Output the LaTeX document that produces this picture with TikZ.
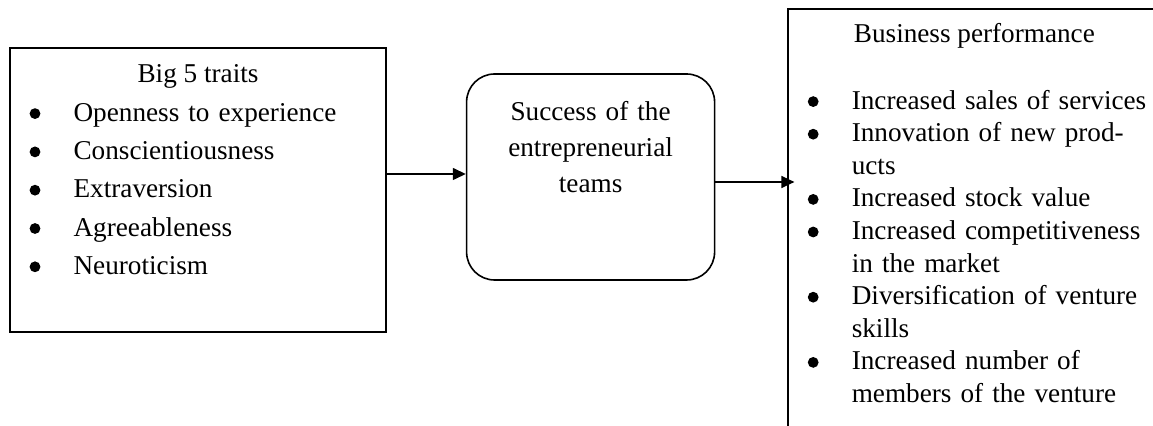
\documentclass[tikz,border=0pt]{standalone}
\usepackage{fontspec}
\setmainfont{Liberation Serif}
\usetikzlibrary{arrows.meta}
\usetikzlibrary{positioning}

% round list bullet, kept on a fixed 22pt slot
\newcommand{\bitem}{\makebox[22pt][l]{\tikz[baseline=-3.8pt]\fill (2.7pt,0) circle (2.7pt);}}
\newcommand{\bcont}{\hspace*{22pt}}

\tikzset{
  box/.style={draw, line width=0.8pt, inner sep=0pt},
  txt/.style={inner sep=0pt, font=\fontsize{13.6pt}{18pt}\selectfont},
  list/.style={txt, align=left, text width=185pt},
  link/.style={-{Triangle[length=6.5pt,width=6pt]}, line width=0.7pt}
}

\begin{document}
\begin{tikzpicture}
\useasboundingbox (0,0) rectangle (576.5pt,-213pt);
\clip (0,0) rectangle (576.5pt,-213pt);

\node[box, minimum width=188pt, minimum height=142pt] (traits) at (99pt,-95pt) {};
\node[box, rounded corners=14pt, minimum width=124pt, minimum height=103pt,
      right=39.5pt of traits, yshift=6.5pt] (success) {};
\node[box, minimum width=200pt, minimum height=230pt,
      right=36pt of success, yshift=-31pt] (perf) {};

% box texts
\node[txt, anchor=base] (traitstitle) at ([yshift=-17.5pt]traits.north) {Big 5 traits};
\node[list, anchor=base west, font=\fontsize{13.6pt}{19.15pt}\selectfont] (traitlist)
  at ([shift={(10pt,-37pt)}]traits.north west)
  {\bitem Openness to experience\\
   \bitem Conscientiousness\\
   \bitem Extraversion\\
   \bitem Agreeableness\\
   \bitem Neuroticism};

\node[txt, align=center, text width=124pt, anchor=base] (successtext)
  at ([yshift=-23.5pt]success.north)
  {Success of the\\ entrepreneurial\\ teams};

\node[txt, anchor=base] (perftitle) at ([shift={(93.5pt,-17pt)}]perf.north west)
  {Business performance};
\node[list, anchor=base west, font=\fontsize{13.6pt}{16.3pt}\selectfont] (perflist)
  at ([shift={(10pt,-50.5pt)}]perf.north west)
  {\bitem Increased sales of services\\
   \bitem Innovation of new prod-\\
   \bcont ucts\\
   \bitem Increased stock value\\
   \bitem Increased competitiveness\\
   \bcont in the market\\
   \bitem Diversification of venture\\
   \bcont skills\\
   \bitem Increased number of\\
   \bcont members of the venture};

% arrows
\draw[link] ([yshift=8pt]traits.east) -- ([yshift=1.5pt]success.west);
\draw[link, shorten >=-3.5pt] ([yshift=-2.5pt]success.east) -- ([yshift=-2.5pt]success.east -| perf.west);
\end{tikzpicture}
\end{document}
